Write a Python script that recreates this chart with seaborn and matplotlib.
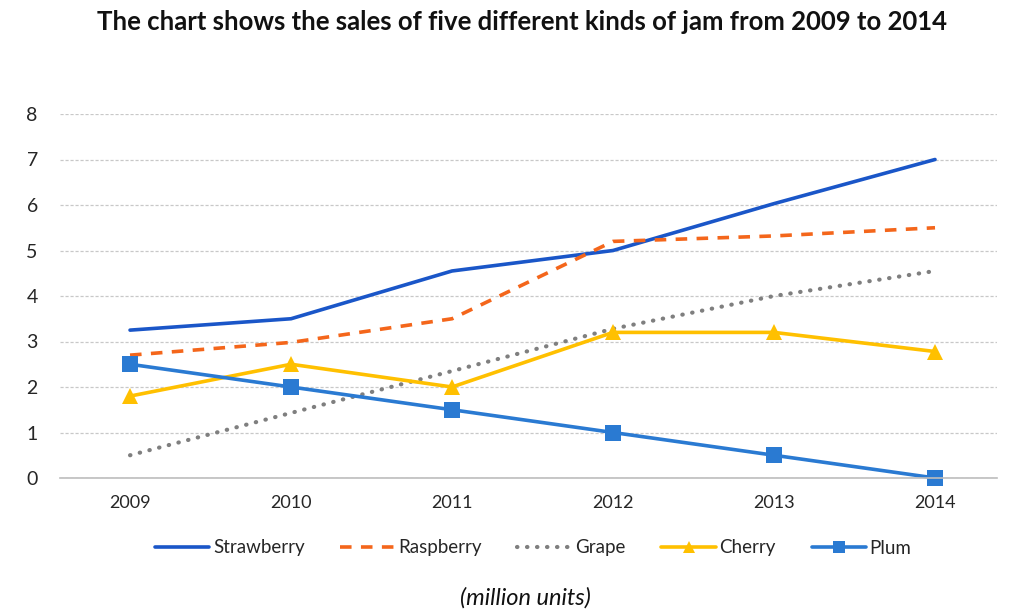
import matplotlib
matplotlib.use("Agg")
import matplotlib.pyplot as plt
import seaborn as sns
import pandas as pd

years = ["2009", "2010", "2011", "2012", "2013", "2014"]
strawberry = [3.25, 3.5, 4.55, 5.0, 6.03, 7.0]
raspberry = [2.7, 2.98, 3.5, 5.2, 5.32, 5.5]
grape = [0.5, 1.43, 2.35, 3.28, 4.0, 4.55]
cherry = [1.8, 2.5, 2.0, 3.2, 3.2, 2.78]
plum = [2.5, 2.0, 1.5, 1.0, 0.5, 0.0]

series = {
    "Strawberry": strawberry,
    "Raspberry": raspberry,
    "Grape": grape,
    "Cherry": cherry,
    "Plum": plum,
}

sns.set_theme(style="white")
plt.rcParams["font.family"] = ["Lato", "DejaVu Sans"]

fig = plt.figure(figsize=(10.24, 6.16), dpi=100)
ax = fig.add_axes([60 / 1024, 1 - 478 / 616, (997 - 60) / 1024, (478 - 114) / 616])

styles = {
    "Strawberry": dict(color="#1A56C8", linestyle="-", marker=None),
    "Raspberry": dict(color="#F4661B", linestyle=(0, (3.2, 2.6)), marker=None),
    "Grape": dict(color="#7F7F7F", linestyle=(0, (0.1, 2.3)), marker=None),
    "Cherry": dict(color="#FFC000", linestyle="-", marker="^"),
    "Plum": dict(color="#2A7AD2", linestyle="-", marker="s"),
}

x = list(range(len(years)))
for name, vals in series.items():
    st = styles[name]
    df = pd.DataFrame({"x": x, "y": vals})
    lw = 3.0 if name == "Grape" else 2.6
    sns.lineplot(data=df, x="x", y="y", ax=ax, color=st["color"], linewidth=lw,
                 marker=st["marker"], markersize=11 if st["marker"] else 0,
                 markeredgewidth=0, label=name)
    line = ax.get_lines()[-1]
    line.set_linestyle(st["linestyle"])
    line.set_clip_on(False)
    if name == "Grape":
        line.set_dash_capstyle("round")

ax.set_xlim(-0.435, 5.385)
ax.set_ylim(0, 8)
ax.set_xticks(x)
ax.set_xticklabels(years, fontsize=13)
ax.set_yticks(range(0, 9))
ax.set_yticklabels([str(v) for v in range(0, 9)], fontsize=14)
ax.tick_params(axis="y", pad=16, length=0)
ax.tick_params(axis="x", pad=12, length=0)
ax.set_xlabel("")
ax.set_ylabel("")
ax.yaxis.grid(True, color="#C8C8C8", linestyle=(0, (2.5, 1.5)), linewidth=0.9)
ax.xaxis.grid(False)
for s in ["top", "right", "left"]:
    ax.spines[s].set_visible(False)
ax.spines["bottom"].set_color("#BDBDBD")
ax.spines["bottom"].set_linewidth(1.2)
ax.set_axisbelow(True)

leg = ax.legend(loc="center", bbox_to_anchor=(0.505, (478 - 548) / (478 - 114)),
                ncol=5, frameon=False, fontsize=13.5, handlelength=2.9,
                columnspacing=1.9, handletextpad=0.2)
for h in leg.legend_handles:
    h.set_markersize(9)

fig.text(0.51, 1 - 22 / 616, "The chart shows the sales of five different kinds of jam from 2009 to 2014",
         ha="center", va="center", fontsize=18.5, fontweight="bold", color="#111111")
fig.text(0.513, 1 - 598 / 616, "(million units)", ha="center", va="center",
         fontsize=17, style="italic", color="#111111")

fig.savefig("out.png", dpi=100, facecolor="white")
